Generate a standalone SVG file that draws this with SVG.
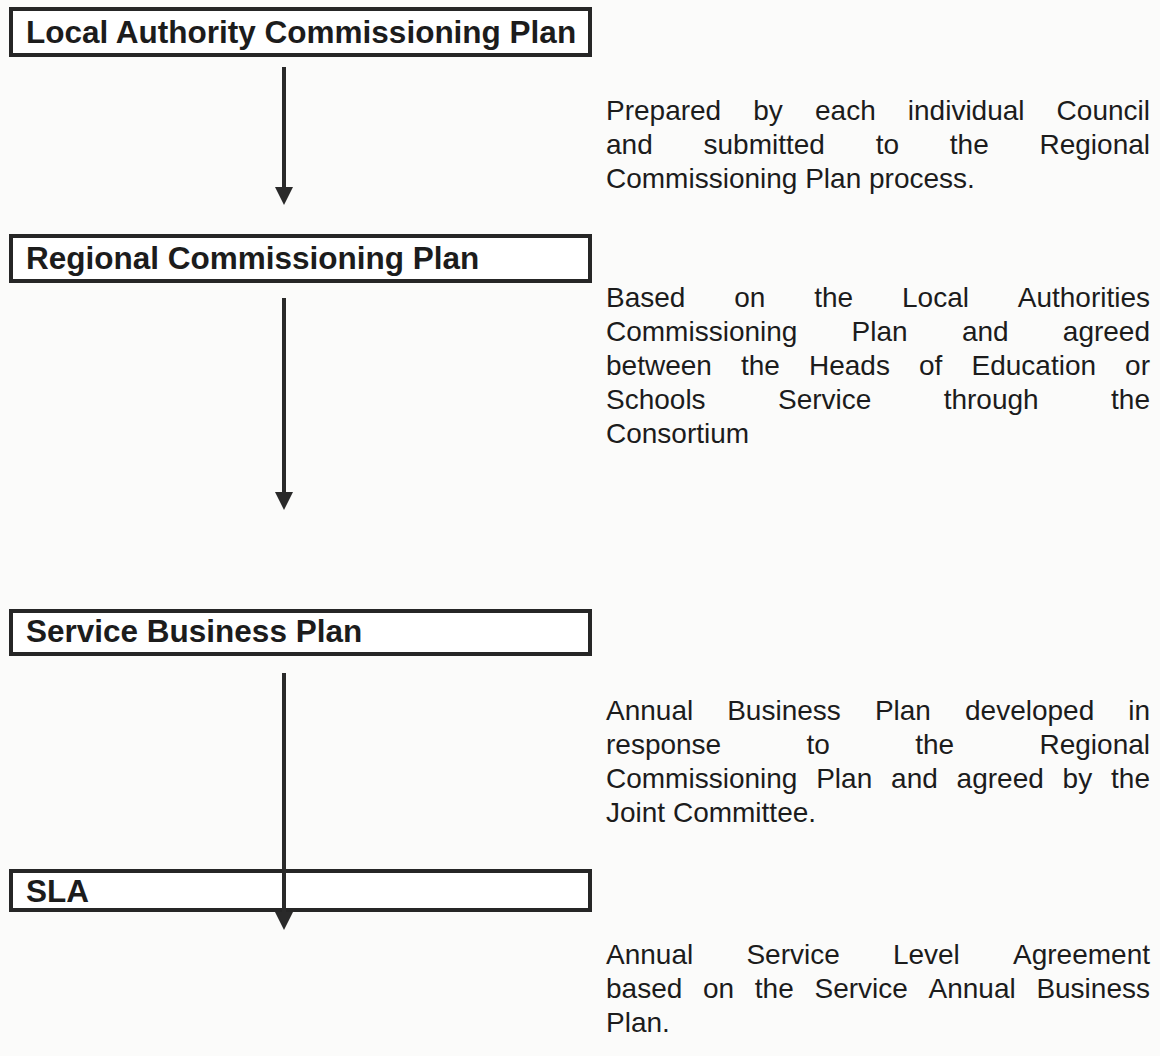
<svg xmlns="http://www.w3.org/2000/svg" width="1160" height="1056" viewBox="0 0 1160 1056">
  <style>
    .box { fill: #ffffff; stroke: #262626; stroke-width: 4; }
    .title { font-family: "Liberation Sans", Arial, sans-serif; font-weight: bold; font-size: 31.5px; fill: #1c1c1c; }
    .note { font-family: "Liberation Sans", Arial, sans-serif; font-size: 28px; fill: #1c1c1c; }
    .end { text-anchor: end; }
    .flow { stroke: #2a2a2a; stroke-width: 4; fill: none; marker-end: url(#head); }
  </style>
  <defs>
    <marker id="head" markerUnits="userSpaceOnUse" markerWidth="18" markerHeight="18" viewBox="0 0 18 18" refX="6" refY="9" orient="auto">
      <path d="M0,0 L18,9 L0,18 z" fill="#2a2a2a"/>
    </marker>
  </defs>

  <rect width="1160" height="1056" fill="#fbfbfa"/>

  <!-- Plan boxes -->
  <g id="node-la-plan">
    <rect class="box" x="11" y="9" width="579" height="46"/>
    <text class="title" x="26" y="43">Local Authority Commissioning Plan</text>
  </g>
  <g id="node-regional-plan">
    <rect class="box" x="11" y="236" width="579" height="45"/>
    <text class="title" x="26" y="269">Regional Commissioning Plan</text>
  </g>
  <g id="node-business-plan">
    <rect class="box" x="11" y="611" width="579" height="43"/>
    <text class="title" x="26" y="642">Service Business Plan</text>
  </g>
  <g id="node-sla">
    <rect class="box" x="11" y="871" width="579" height="39"/>
    <text class="title" x="26" y="902">SLA</text>
  </g>

  <!-- Downward flow between the plans -->
  <g id="connectors">
    <line class="flow" x1="284" y1="67" x2="284" y2="193"/>
    <line class="flow" x1="284" y1="298" x2="284" y2="498"/>
    <line class="flow" x1="284" y1="673" x2="284" y2="918"/>
  </g>

  <!-- Justified descriptions beside each plan -->
  <g id="note-la-plan">
    <text class="note" y="120">
      <tspan x="606">Prepared</tspan><tspan x="753.3">by</tspan><tspan x="815">each</tspan><tspan x="907.8">individual</tspan>
    </text>
    <text class="note end" x="1150" y="120">Council</text>
    <text class="note" y="154">
      <tspan x="606">and</tspan><tspan x="703.5">submitted</tspan><tspan x="875.7">to</tspan><tspan x="949.8">the</tspan>
    </text>
    <text class="note end" x="1150" y="154">Regional</text>
    <text class="note" x="606" y="188">Commissioning Plan process.</text>
  </g>

  <g id="note-regional-plan">
    <text class="note" y="307">
      <tspan x="606">Based</tspan><tspan x="734.2">on</tspan><tspan x="814.2">the</tspan><tspan x="902">Local</tspan>
    </text>
    <text class="note end" x="1150" y="307">Authorities</text>
    <text class="note" y="341">
      <tspan x="606">Commissioning</tspan><tspan x="851.6">Plan</tspan><tspan x="961.9">and</tspan>
    </text>
    <text class="note end" x="1150" y="341">agreed</text>
    <text class="note" y="375">
      <tspan x="606">between</tspan><tspan x="741">the</tspan><tspan x="809">Heads</tspan><tspan x="919">of</tspan><tspan x="971.5">Education</tspan>
    </text>
    <text class="note end" x="1150" y="375">or</text>
    <text class="note" y="409">
      <tspan x="606">Schools</tspan><tspan x="778">Service</tspan><tspan x="943.7">through</tspan>
    </text>
    <text class="note end" x="1150" y="409">the</text>
    <text class="note" x="606" y="443">Consortium</text>
  </g>

  <g id="note-business-plan">
    <text class="note" y="720">
      <tspan x="606">Annual</tspan><tspan x="727.2">Business</tspan><tspan x="874.9">Plan</tspan><tspan x="965">developed</tspan>
    </text>
    <text class="note end" x="1150" y="720">in</text>
    <text class="note" y="754">
      <tspan x="606">response</tspan><tspan x="806.5">to</tspan><tspan x="915.2">the</tspan>
    </text>
    <text class="note end" x="1150" y="754">Regional</text>
    <text class="note" y="788">
      <tspan x="606">Commissioning</tspan><tspan x="816.2">Plan</tspan><tspan x="891.1">and</tspan><tspan x="956.6">agreed</tspan><tspan x="1062.6">by</tspan>
    </text>
    <text class="note end" x="1150" y="788">the</text>
    <text class="note" x="606" y="822">Joint Committee.</text>
  </g>

  <g id="note-sla">
    <text class="note" y="964">
      <tspan x="606">Annual</tspan><tspan x="746.4">Service</tspan><tspan x="892.9">Level</tspan>
    </text>
    <text class="note end" x="1150" y="964">Agreement</text>
    <text class="note" y="998">
      <tspan x="606">based</tspan><tspan x="703">on</tspan><tspan x="754.8">the</tspan><tspan x="814.5">Service</tspan><tspan x="928.5">Annual</tspan>
    </text>
    <text class="note end" x="1150" y="998">Business</text>
    <text class="note" x="606" y="1032">Plan.</text>
  </g>
</svg>
